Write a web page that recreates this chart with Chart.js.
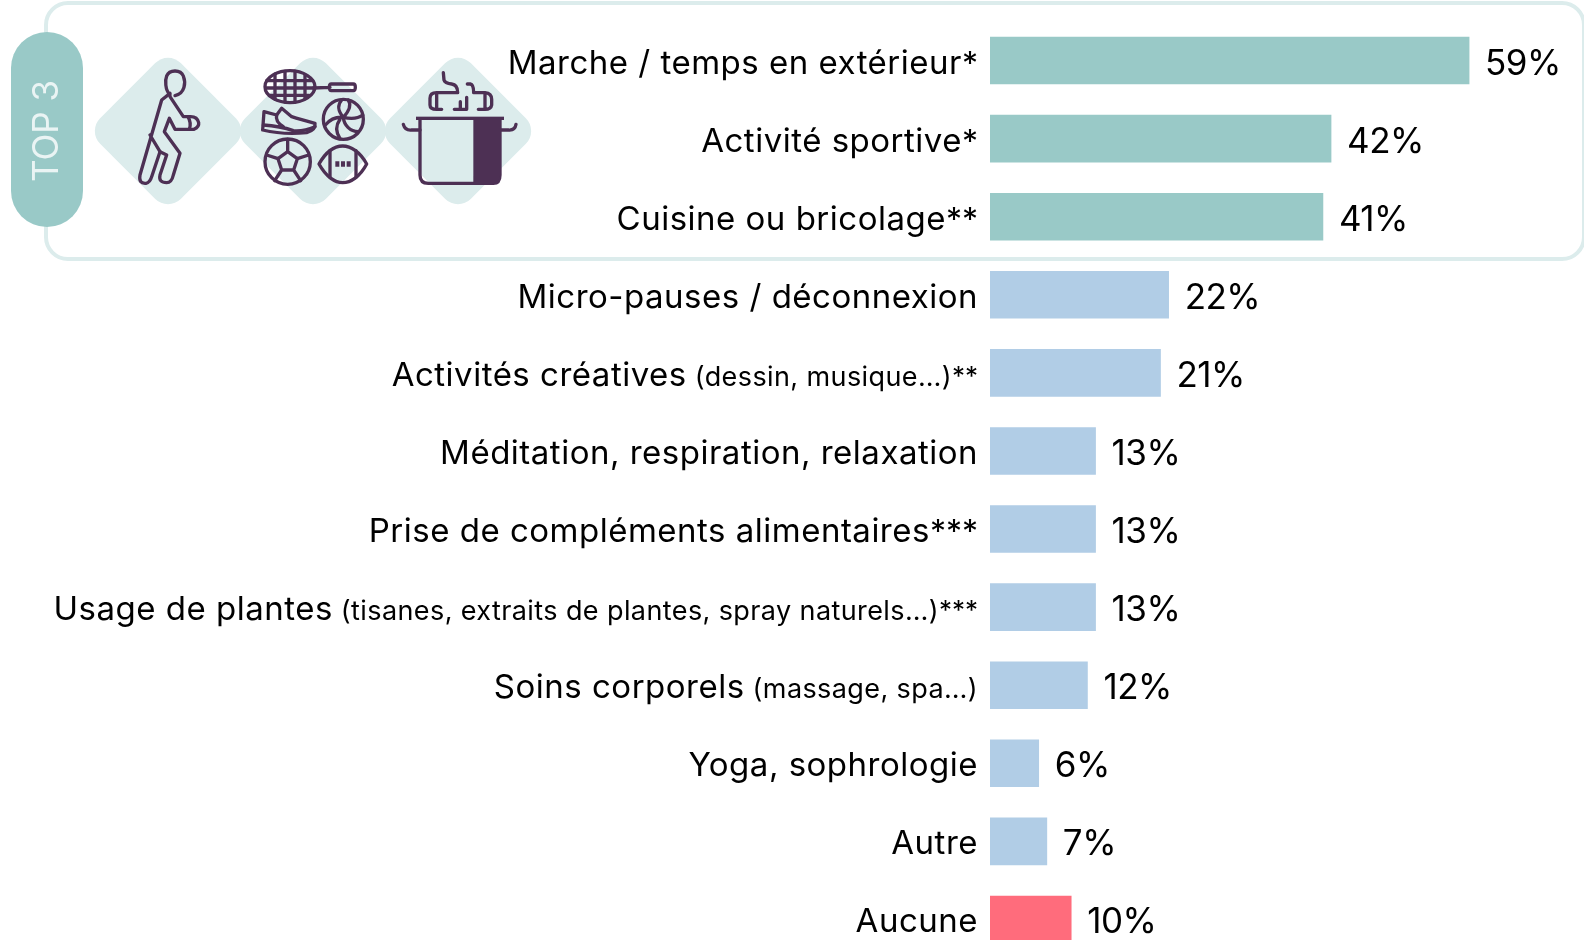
<!DOCTYPE html>
<html lang="fr">
<head>
<meta charset="utf-8">
<title>Top 3</title>
<script src="https://cdn.jsdelivr.net/npm/chart.js@4"></script>
<style>
  html, body { margin: 0; background: #fff; overflow: hidden; }
  canvas { display: block; }
</style>
</head>
<body>
<canvas id="myChart" width="1584" height="959"></canvas>
<script>
// main label, smaller note in brackets, trailing stars
const categories = ['Marche / temps en extérieur', 'Activité sportive', 'Cuisine ou bricolage', 'Micro-pauses / déconnexion',
    'Activités créatives', 'Méditation, respiration, relaxation', 'Prise de compléments alimentaires',
    'Usage de plantes', 'Soins corporels', 'Yoga, sophrologie', 'Autre', 'Aucune']
const notes = ['', '', '', '', '(dessin, musique…)', '', '', '(tisanes, extraits de plantes, spray naturels…)', '(massage, spa…)', '', '', '']
const stars = ['*', '*', '**', '', '**', '', '***', '***', '', '', '', '']
const values = [59, 42, 41, 22, 21, 13, 13, 13, 12, 6, 7, 10]
const bar_colors = ['#99c9c7', '#99c9c7', '#99c9c7', '#b1cde6', '#b1cde6', '#b1cde6', '#b1cde6', '#b1cde6', '#b1cde6', '#b1cde6', '#b1cde6', '#ff6c7c']

const FONT = 'Inter, "Noto Sans", sans-serif'
const INK = '#4d3054'
const PALE = '#dcecec'

// icons, coordinates are 3x zoom units
const person = [
    'M150 105C135 90 135 60 140 48C148 28 182 28 190 48C198 68 195 100 165 107',
    'M150 100L125 120L60 345Q55 372 78 370Q90 368 95 350L120 275L90 225',
    'M120 275L140 285L120 345Q115 368 140 368Q155 368 160 345L180 280L133 215L148 175L165 208L222 208Q238 200 236 188Q232 170 212 170L190 170L150 110',
    'M204 170Q215 190 208 208'
]
const sports = [
    // racket
    'M45 80C45 50 85 32 120 32C160 32 195 55 195 80C195 105 160 128 120 128C85 128 45 110 45 80Z',
    'M75 42V118M105 34V126M135 34V126M165 44V116M50 62H188M48 84H193M60 106H178',
    'M190 84L240 82M244 72H310Q316 72 316 82Q316 92 310 92H244Q238 92 238 82Q238 72 244 72Z',
    // shoe
    'M42 155L38 210Q100 225 170 218Q198 210 195 190Q150 178 125 170L95 145L80 165L42 155Z',
    'M40 195Q90 198 130 212Q160 215 195 200M80 165Q75 185 100 200',
    // volleyball
    'M340 178A60 60 0 1 1 220 178A60 60 0 1 1 340 178Z',
    'M280 172C262 150 262 135 275 120M280 172C300 150 305 135 295 120M280 172C258 170 240 178 226 195M280 172C282 195 300 215 325 215M280 172C305 178 325 175 338 165M270 178C258 195 256 215 270 236',
    // soccer ball
    'M181 305A68 68 0 1 1 45 305A68 68 0 1 1 181 305Z',
    'M113 275L142 296L131 330L95 330L84 296ZM113 275V238M142 296L176 285M131 330L152 362M95 330L74 362M84 296L50 285',
    // football
    'M207 312C228 275 255 258 278 258C302 258 330 275 350 312C330 350 302 368 278 368C255 368 228 350 207 312Z',
    'M240 272V352M318 272V352'
]
const sports_dots = 'M256 304H268V320H256ZM273 304H285V320H273ZM290 304H302V320H290Z'
const pot = [
    'M75 180V345Q75 370 100 370H295Q315 370 315 345V180',
    'M25 193Q30 212 50 210H75M315 210H340Q360 212 363 193',
    'M145 38L147 60Q150 70 170 72Q188 74 188 98H125Q105 98 105 115V135Q105 148 125 148H140M125 100V146',
    'M178 148H215V112M196 125V148',
    'M217 72H226Q236 74 236 98H270Q290 100 290 118V135Q288 148 270 148H250M270 100V146'
]

function trace_icon(ctx, paths, x, y, width) {
    ctx.save()
    ctx.translate(x, y)
    ctx.scale(1 / 3, 1 / 3)
    ctx.strokeStyle = INK
    ctx.lineWidth = width
    ctx.lineJoin = 'round'
    ctx.lineCap = 'round'
    paths.forEach(p => ctx.stroke(new Path2D(p)))
    ctx.restore()
}

function draw_diamond(ctx, cx, cy) {
    ctx.save()
    ctx.translate(cx, cy)
    ctx.rotate(Math.PI / 4)
    ctx.fillStyle = PALE
    ctx.beginPath()
    ctx.roundRect(-57, -57, 114, 114, 18)
    ctx.fill()
    ctx.restore()
}

const top3_panel = {
    id: 'top3_panel',
    beforeDraw(chart) {
        const ctx = chart.ctx
        ctx.save()
        ctx.strokeStyle = PALE
        ctx.lineWidth = 4
        ctx.beginPath()
        ctx.roundRect(46, 3, 1538, 256, 22)
        ctx.stroke()

        draw_diamond(ctx, 168, 131)
        draw_diamond(ctx, 313, 131)
        draw_diamond(ctx, 458, 131)

        ctx.fillStyle = '#99c9c7'
        ctx.beginPath()
        ctx.roundRect(11, 32, 72, 195, 36)
        ctx.fill()

        ctx.translate(46.5, 131)
        ctx.rotate(-Math.PI / 2)
        ctx.fillStyle = '#eaf4f4'
        ctx.font = '400 35px ' + FONT
        ctx.textAlign = 'center'
        ctx.textBaseline = 'middle'
        ctx.fillText('TOP 3', 0, 1)
        ctx.restore()

        trace_icon(ctx, person, 120, 60, 10)
        trace_icon(ctx, sports, 250, 60, 10)
        trace_icon(ctx, pot, 395, 60, 10)

        ctx.save()
        ctx.translate(250, 60)
        ctx.scale(1 / 3, 1 / 3)
        ctx.fillStyle = INK
        ctx.fill(new Path2D(sports_dots))
        ctx.restore()

        // dark side of the pot and its rim
        ctx.save()
        ctx.translate(395, 60)
        ctx.scale(1 / 3, 1 / 3)
        ctx.fillStyle = INK
        ctx.fillRect(63, 170, 264, 10)
        ctx.beginPath()
        ctx.roundRect(235, 175, 80, 195, [0, 0, 24, 0])
        ctx.fill()
        ctx.restore()
    }
}

const bar_labels = {
    id: 'bar_labels',
    afterDatasetsDraw(chart) {
        const ctx = chart.ctx
        const x = chart.scales.x
        const y = chart.scales.y
        ctx.save()
        ctx.fillStyle = '#000'
        ctx.textBaseline = 'alphabetic'
        categories.forEach((name, i) => {
            const mid = y.getPixelForValue(i)
            let right = x.getPixelForValue(0) - 12
            ctx.textAlign = 'right'
            if (stars[i]) {
                // stars follow the size of the text next to them
                ctx.letterSpacing = '0px'
                ctx.font = '400 ' + (notes[i] ? 26 : 32) + 'px ' + FONT
                ctx.fillText(stars[i], right, mid + (notes[i] ? 12 : 14))
                right -= ctx.measureText(stars[i]).width
            }
            if (notes[i]) {
                ctx.letterSpacing = '0.4px'
                ctx.font = '400 27px ' + FONT
                ctx.fillText(notes[i], right, mid + 13)
                right -= ctx.measureText(notes[i]).width + 8
            }
            ctx.letterSpacing = '0.5px'
            ctx.font = '400 33px ' + FONT
            ctx.fillText(name, right, mid + 13)

            ctx.textAlign = 'left'
            ctx.letterSpacing = '-0.5px'
            ctx.font = '400 35px ' + FONT
            ctx.fillText(values[i] + '%', x.getPixelForValue(values[i]) + 16, mid + 14)
        })
        ctx.restore()
    }
}

var config = {
    type: 'bar',
    data: {
        labels: categories,
        datasets: [{
            data: values,
            backgroundColor: bar_colors,
            barThickness: 47
        }]
    },
    plugins: [top3_panel, bar_labels],
    options: {
        indexAxis: 'y',
        responsive: false,
        animation: false,
        layout: { padding: { left: 990, top: 21.5, bottom: 0.5, right: 0 } },
        plugins: {
            legend: { display: false },
            tooltip: { enabled: false }
        },
        scales: {
            x: { display: false, min: 0, max: 73.15 },
            y: { display: false }
        }
    }
}

var myChart = new Chart(document.getElementById('myChart'), config)
</script>
</body>
</html>
